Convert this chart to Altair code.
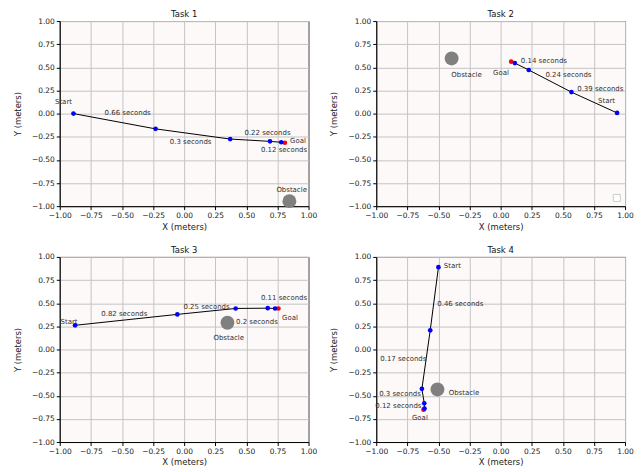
import altair as alt
import pandas as pd

# ---- Task 1 ----
t1_path_x = [-0.89, -0.23, 0.37, 0.69, 0.78]
t1_path_y = [0.0, -0.165, -0.275, -0.30, -0.31]
t1_goal = [0.81, -0.315]
t1_obstacle = [0.846, -0.946]
t1_labels = ["Start", "0.66 seconds", "0.3 seconds", "0.22 seconds", "Goal", "0.12 seconds", "Obstacle"]
t1_label_x = [-0.97, -0.454, 0.052, 0.67, 0.915, 0.803, 0.864]
t1_label_y = [0.121, 0.004, -0.304, -0.207, -0.293, -0.389, -0.825]

# ---- Task 2 ----
t2_path_x = [0.936, 0.569, 0.226, 0.114]
t2_path_y = [0.007, 0.232, 0.471, 0.546]
t2_goal = [0.085, 0.561]
t2_obstacle = [-0.394, 0.596]
t2_labels = ["0.14 seconds", "Obstacle", "Goal", "0.24 seconds", "0.39 seconds", "Start"]
t2_label_x = [0.348, -0.274, 0.003, 0.545, 0.801, 0.851]
t2_label_y = [0.571, 0.414, 0.436, 0.421, 0.261, 0.132]
t2_legend = [0.934, -0.911]

# ---- Task 3 ----
t3_path_x = [-0.877, -0.055, 0.414, 0.672, 0.731]
t3_path_y = [0.261, 0.379, 0.443, 0.446, 0.443]
t3_goal = [0.758, 0.443]
t3_obstacle = [0.348, 0.289]
t3_labels = ["Start", "0.82 seconds", "0.25 seconds", "0.2 seconds", "0.11 seconds", "Goal", "Obstacle"]
t3_label_x = [-0.925, -0.481, 0.18, 0.585, 0.803, 0.851, 0.358]
t3_label_y = [0.296, 0.382, 0.457, 0.296, 0.554, 0.339, 0.129]

# ---- Task 4 ----
t4_path_x = [-0.50, -0.566, -0.633, -0.614, -0.612]
t4_path_y = [0.889, 0.207, -0.425, -0.582, -0.639]
t4_goal = [-0.62, -0.65]
t4_obstacle = [-0.508, -0.432]
t4_labels = ["Start", "0.46 seconds", "0.17 seconds", "0.3 seconds", "0.12 seconds", "Goal", "Obstacle"]
t4_label_x = [-0.388, -0.324, -0.782, -0.809, -0.822, -0.649, -0.295]
t4_label_y = [0.907, 0.489, -0.10, -0.482, -0.614, -0.743, -0.468]

tick_values = [-1.0, -0.75, -0.5, -0.25, 0.0, 0.25, 0.5, 0.75, 1.0]
titles = ["Task 1", "Task 2", "Task 3", "Task 4"]

FONT = "DejaVu Sans"
W, H = 250, 186


def encodings():
    x = alt.X("x:Q", scale=alt.Scale(domain=[-1, 1], nice=False, zero=False),
              axis=alt.Axis(values=tick_values, format=".2f", title="X (meters)",
                            labelFlush=False, labelOverlap=False, titlePadding=3))
    y = alt.Y("y:Q", scale=alt.Scale(domain=[-1, 1], nice=False, zero=False),
              axis=alt.Axis(values=tick_values, format=".2f", title="Y (meters)",
                            labelOverlap=False, titlePadding=9))
    return x, y


def panel(title, px, py, goal, obs, labels, lx, ly, legend=None):
    x, y = encodings()
    path = pd.DataFrame({"x": px, "y": py, "i": list(range(len(px)))})
    goal_df = pd.DataFrame({"x": [goal[0]], "y": [goal[1]]})
    obs_df = pd.DataFrame({"x": [obs[0]], "y": [obs[1]]})
    lab_df = pd.DataFrame({"x": lx, "y": ly, "t": labels})
    title_df = pd.DataFrame({"t": [title]})

    line = alt.Chart(path).mark_line(color="black", strokeWidth=1).encode(
        x=x, y=y, order="i:Q")
    red = alt.Chart(goal_df).mark_circle(color="#ff0000", size=22, opacity=1).encode(x=x, y=y)
    blue = alt.Chart(path).mark_circle(color="#0000ff", size=22, opacity=1).encode(x=x, y=y)
    ob = alt.Chart(obs_df).mark_circle(color="#808080", size=195, opacity=1).encode(x=x, y=y)
    txt = alt.Chart(lab_df).mark_text(font=FONT, fontSize=7, color="#333333",
                                      align="center", baseline="middle").encode(
        x=x, y=y, text="t:N")
    ttl = alt.Chart(title_df).mark_text(font=FONT, fontSize=8.5, color="#111111",
                                        align="center", baseline="middle").encode(
        x=alt.value(W / 2), y=alt.value(-7), text="t:N")
    layers = [line, red, blue, ob, txt]
    if legend is not None:
        leg_df = pd.DataFrame({"x": [legend[0]], "y": [legend[1]]})
        leg = alt.Chart(leg_df).mark_point(shape="square", filled=True, fill="white",
                                           stroke="#cccccc", strokeWidth=1, size=50,
                                           opacity=1).encode(x=x, y=y)
        layers.append(leg)
    layers.append(ttl)
    return alt.layer(*layers).properties(width=W, height=H)


p1 = panel(titles[0], t1_path_x, t1_path_y, t1_goal, t1_obstacle, t1_labels, t1_label_x, t1_label_y)
p2 = panel(titles[1], t2_path_x, t2_path_y, t2_goal, t2_obstacle, t2_labels, t2_label_x, t2_label_y,
           legend=t2_legend)
p3 = panel(titles[2], t3_path_x, t3_path_y, t3_goal, t3_obstacle, t3_labels, t3_label_x, t3_label_y)
p4 = panel(titles[3], t4_path_x, t4_path_y, t4_goal, t4_obstacle, t4_labels, t4_label_x, t4_label_y)

chart = alt.concat(p1, p2, p3, p4, columns=2, spacing={"row": 51, "column": 68},
                   bounds="flush").properties(
    padding={"left": 5, "top": 0, "right": 0, "bottom": 0}
).configure_view(
    fill="#fdf9f8", stroke="black", strokeWidth=1
).configure_axis(
    grid=True, gridColor="#c4c4c4", gridWidth=1,
    domainColor="black", domainWidth=1,
    tickColor="black", tickSize=3.5, tickWidth=1,
    labelFont=FONT, labelFontSize=7.5, labelColor="#222222", labelPadding=2,
    titleFont=FONT, titleFontSize=8.5, titleFontWeight="normal", titleColor="#222222"
)

chart.save("out.html", embed_options={"renderer": "svg", "actions": False})
